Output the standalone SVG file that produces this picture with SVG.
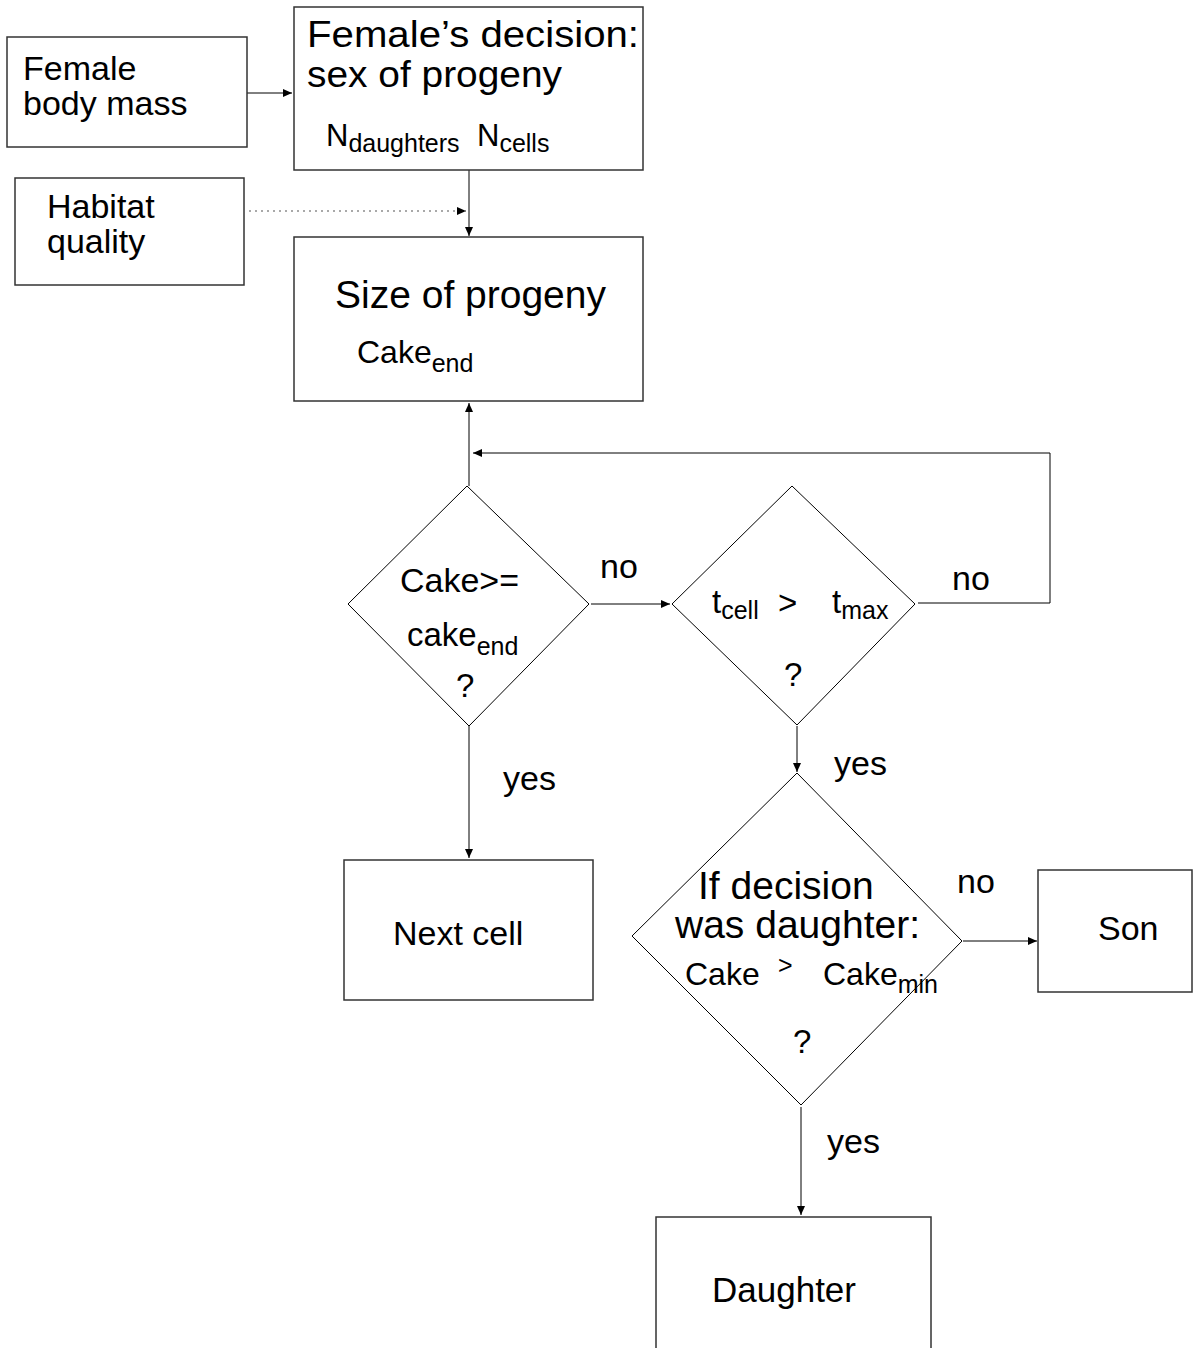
<svg xmlns="http://www.w3.org/2000/svg" width="1203" height="1348" viewBox="0 0 1203 1348">
<defs>
<marker id="ah" markerWidth="10" markerHeight="8" refX="9" refY="4" orient="auto" markerUnits="userSpaceOnUse">
<path d="M0,0 L9,4 L0,8 Z" fill="#000"/>
</marker>
<style>
.box{fill:#fff;stroke:#333;stroke-width:1.5}
.dia{fill:#fff;stroke:#000;stroke-width:1}
.con{fill:none;stroke:#000;stroke-width:1}
.dot{fill:none;stroke:#555;stroke-width:1.2;stroke-dasharray:2,4}
text{font-family:"Liberation Sans",Arial,sans-serif;fill:#000}
.t34{font-size:34px}
.t39{font-size:39px}
.t33{font-size:33px}
.sub{font-size:25px}
</style>
</defs>
<rect width="1203" height="1348" fill="#fff"/>
<g id="connectors">
<line class="con" x1="247" y1="93" x2="292" y2="93" marker-end="url(#ah)"/>
<line class="dot" x1="249" y1="211" x2="466" y2="211" marker-end="url(#ah)"/>
<line class="con" x1="469" y1="170" x2="469" y2="236" marker-end="url(#ah)"/>
<line class="con" x1="469" y1="486" x2="469" y2="403" marker-end="url(#ah)"/>
<polyline class="con" points="918,603 1050,603 1050,453 473,453" marker-end="url(#ah)"/>
<line class="con" x1="591" y1="604" x2="670" y2="604" marker-end="url(#ah)"/>
<line class="con" x1="469" y1="726" x2="469" y2="858" marker-end="url(#ah)"/>
<line class="con" x1="797" y1="726" x2="797" y2="772" marker-end="url(#ah)"/>
<line class="con" x1="963" y1="941" x2="1037" y2="941" marker-end="url(#ah)"/>
<line class="con" x1="801" y1="1107" x2="801" y2="1215" marker-end="url(#ah)"/>
<text class="t34" x="600" y="578">no</text>
<text class="t34" x="952" y="590">no</text>
<text class="t34" x="503" y="790">yes</text>
<text class="t34" x="834" y="775">yes</text>
<text class="t34" x="957" y="893">no</text>
<text class="t34" x="827" y="1153">yes</text>
</g>
<g id="female-body-mass">
<rect class="box" x="7" y="37" width="240" height="110"/>
<text class="t34" x="23" y="80">Female</text>
<text class="t34" x="23" y="115" font-size="34.5">body mass</text>
</g>
<g id="habitat-quality">
<rect class="box" x="15" y="178" width="229" height="107"/>
<text class="t34" x="47" y="218">Habitat</text>
<text class="t34" x="47" y="253">quality</text>
</g>
<g id="female-decision">
<rect class="box" x="294" y="7" width="349" height="163"/>
<text x="307" y="46.5" font-size="36.5" textLength="332" lengthAdjust="spacingAndGlyphs">Female’s decision:</text>
<text x="307" y="87" font-size="36.5" textLength="255" lengthAdjust="spacingAndGlyphs">sex of progeny</text>
<text x="326" y="146" font-size="31">N<tspan class="sub" dy="6">daughters</tspan></text>
<text x="477" y="146" font-size="31">N<tspan class="sub" dy="6">cells</tspan></text>
</g>
<g id="size-of-progeny">
<rect class="box" x="294" y="237" width="349" height="164"/>
<text class="t39" x="335" y="308">Size of progeny</text>
<text x="357" y="363" font-size="32">Cake<tspan class="sub" dy="9">end</tspan></text>
</g>
<g id="cake-check">
<polygon class="dia" points="467,486 589,604 469,726 348,604"/>
<text class="t34" x="400" y="592">Cake&gt;=</text>
<text x="407" y="646" font-size="33">cake<tspan class="sub" dy="9">end</tspan></text>
<text class="t33" x="456" y="697">?</text>
</g>
<g id="time-check">
<polygon class="dia" points="792,486 915,604 797,725 672,604"/>
<text x="712" y="613" font-size="33">t<tspan class="sub" dy="6">cell</tspan></text>
<text class="t33" x="778" y="614">&gt;</text>
<text x="832" y="613" font-size="33">t<tspan class="sub" dy="6">max</tspan></text>
<text class="t33" x="784" y="686">?</text>
</g>
<g id="daughter-check">
<polygon class="dia" points="797,773 962,941 801,1105 632,936"/>
<text class="t39" x="698" y="899">If decision</text>
<text class="t39" x="675" y="938">was daughter:</text>
<text x="685" y="985" font-size="32">Cake</text>
<text x="778" y="974" font-size="25">&gt;</text>
<text x="823" y="985" font-size="32">Cake<tspan class="sub" dy="8">min</tspan></text>
<text class="t33" x="793" y="1053">?</text>
</g>
<g id="next-cell">
<rect class="box" x="344" y="860" width="249" height="140"/>
<text class="t34" x="393" y="945">Next cell</text>
</g>
<g id="son">
<rect class="box" x="1038" y="870" width="154" height="122"/>
<text class="t34" x="1098" y="940">Son</text>
</g>
<g id="daughter">
<rect class="box" x="656" y="1217" width="275" height="160"/>
<text x="712" y="1302" font-size="35">Daughter</text>
</g>
</svg>
